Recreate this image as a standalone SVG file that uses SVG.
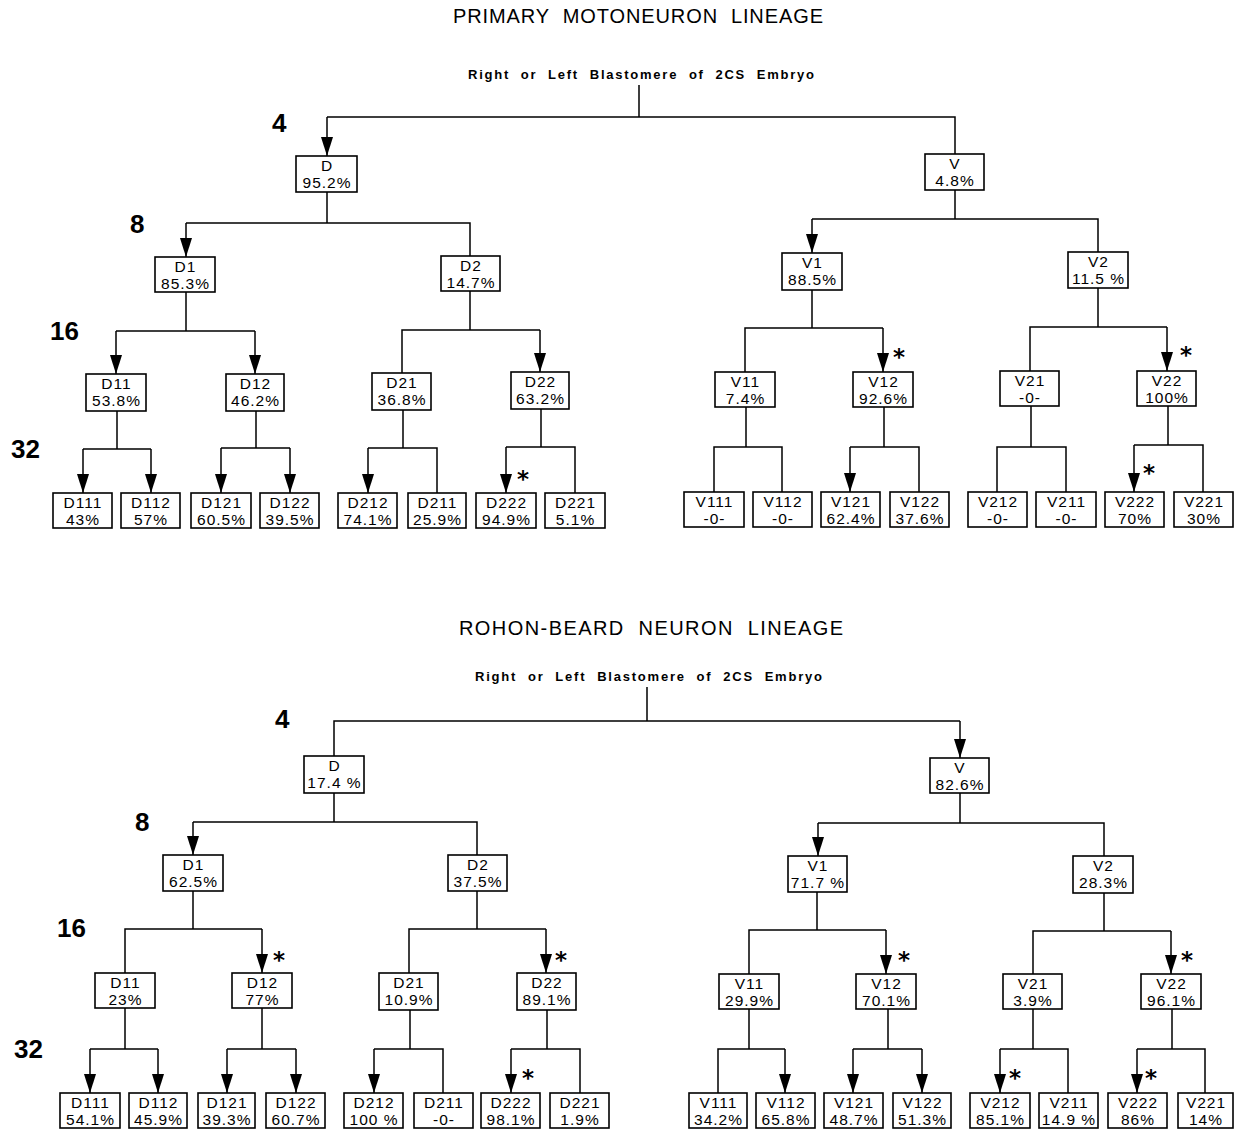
<svg xmlns="http://www.w3.org/2000/svg" width="1235" height="1132" viewBox="0 0 1235 1132">
<style>
  .bg{fill:#fff}
  .title{font-family:"Liberation Sans",Arial,sans-serif;font-size:20px;fill:#000;white-space:pre}
  .sub{font-family:"Liberation Sans",Arial,sans-serif;font-size:13px;font-weight:bold;fill:#000;white-space:pre}
  .lvl{font-family:"Liberation Sans",Arial,sans-serif;font-size:26px;font-weight:bold;fill:#000}
  .node rect{fill:#fff;stroke:#000;stroke-width:1.6}
  .node text{font-family:"Liberation Sans",Arial,sans-serif;font-size:15.5px;fill:#000;text-anchor:middle;letter-spacing:1px;white-space:pre}
  .ln{fill:none;stroke:#000;stroke-width:1.5}
  .arr{fill:none;stroke:#000;stroke-width:1.5;marker-end:url(#ah)}
  .ast{font-family:"DejaVu Sans",sans-serif;font-size:23px;font-weight:bold;fill:#000;text-anchor:middle}
</style>
<defs>
  <marker id="ah" markerUnits="userSpaceOnUse" markerWidth="19" markerHeight="12" viewBox="0 0 19 12" refX="19" refY="6" orient="auto">
    <path d="M0,0 L19,6 L0,12 z" fill="#000"/>
  </marker>
</defs>
<rect class="bg" x="0" y="0" width="1235" height="1132"/>

<!-- titles and level labels -->
<text class="title" x="453" y="23" textLength="370" lengthAdjust="spacing">PRIMARY  MOTONEURON  LINEAGE</text>
<text class="sub" x="468" y="79" textLength="346" lengthAdjust="spacing">Right  or  Left  Blastomere  of  2CS  Embryo</text>
<text class="lvl" x="272" y="132">4</text>
<text class="lvl" x="130" y="233">8</text>
<text class="lvl" x="50" y="340">16</text>
<text class="lvl" x="11" y="458">32</text>

<text class="title" x="459" y="635" textLength="384" lengthAdjust="spacing">ROHON-BEARD  NEURON  LINEAGE</text>
<text class="sub" x="475" y="681" textLength="347" lengthAdjust="spacing">Right  or  Left  Blastomere  of  2CS  Embryo</text>
<text class="lvl" x="275" y="728">4</text>
<text class="lvl" x="135" y="831">8</text>
<text class="lvl" x="57" y="937">16</text>
<text class="lvl" x="14" y="1058">32</text>

<g id="connectors">
  <g id="conn-motoneuron">
    <path class="ln" d="M639,85 V117 M327,117 H955 V154"/>
    <path class="arr" d="M327,117 V156"/>
    <path class="ln" d="M327,192 V223 M186,223 H470 V256"/>
    <path class="arr" d="M186,223 V257"/>
    <path class="ln" d="M955,190 V219 M812,219 H1098 V252"/>
    <path class="arr" d="M812,219 V253"/>
    <path class="ln" d="M186,292 V331 M116,331 H255"/>
    <path class="arr" d="M116,331 V374"/>
    <path class="arr" d="M255,331 V374"/>
    <path class="ln" d="M470,291 V330 M402,373 V330 H540"/>
    <path class="arr" d="M540,330 V372"/>
    <path class="ln" d="M812,290 V328 M745,372 V328 H883"/>
    <path class="arr" d="M883,328 V372"/>
    <path class="ln" d="M1098,288 V327 M1030,371 V327 H1167"/>
    <path class="arr" d="M1167,327 V371"/>
    <path class="ln" d="M117,411 V449 M83,449 H151"/>
    <path class="arr" d="M83,449 V493"/>
    <path class="arr" d="M151,449 V493"/>
    <path class="ln" d="M256,411 V448 M221,448 H290"/>
    <path class="arr" d="M221,448 V493"/>
    <path class="arr" d="M290,448 V493"/>
    <path class="ln" d="M403,410 V448 M368,448 H437 V493"/>
    <path class="arr" d="M368,448 V493"/>
    <path class="ln" d="M541,409 V447 M506,447 H575 V493"/>
    <path class="arr" d="M506,447 V493"/>
    <path class="ln" d="M746,407 V447 M714,492 V447 H782 V492"/>
    <path class="ln" d="M884,407 V447 M850,447 H919 V492"/>
    <path class="arr" d="M850,447 V492"/>
    <path class="ln" d="M1031,406 V447 M997,492 V447 H1066 V492"/>
    <path class="ln" d="M1168,406 V445 M1134,445 H1203 V492"/>
    <path class="arr" d="M1134,445 V492"/>
    <text class="ast" x="899" y="365">*</text>
    <text class="ast" x="1186" y="363">*</text>
    <text class="ast" x="523" y="487">*</text>
    <text class="ast" x="1149" y="481">*</text>
  </g>
  <g id="conn-rohon-beard">
    <path class="ln" d="M647,687 V721 M334,756 V721 H960"/>
    <path class="arr" d="M960,721 V758"/>
    <path class="ln" d="M334,793 V822 M193,822 H477 V855"/>
    <path class="arr" d="M193,822 V855"/>
    <path class="ln" d="M960,793 V823 M818,823 H1104 V856"/>
    <path class="arr" d="M818,823 V856"/>
    <path class="ln" d="M193,891 V929 M125,973 V929 H262"/>
    <path class="arr" d="M262,929 V973"/>
    <path class="ln" d="M477,891 V929 M409,973 V929 H546"/>
    <path class="arr" d="M546,929 V973"/>
    <path class="ln" d="M817,892 V930 M749,974 V930 H886"/>
    <path class="arr" d="M886,930 V974"/>
    <path class="ln" d="M1104,893 V931 M1033,974 V931 H1171"/>
    <path class="arr" d="M1171,931 V974"/>
    <path class="ln" d="M125,1008 V1049 M90,1049 H158"/>
    <path class="arr" d="M90,1049 V1093"/>
    <path class="arr" d="M158,1049 V1093"/>
    <path class="ln" d="M262,1008 V1049 M227,1049 H296"/>
    <path class="arr" d="M227,1049 V1093"/>
    <path class="arr" d="M296,1049 V1093"/>
    <path class="ln" d="M410,1010 V1049 M374,1049 H443 V1093"/>
    <path class="arr" d="M374,1049 V1093"/>
    <path class="ln" d="M547,1010 V1049 M511,1049 H580 V1093"/>
    <path class="arr" d="M511,1049 V1093"/>
    <path class="ln" d="M749,1009 V1049 M718,1093 V1049 H785"/>
    <path class="arr" d="M785,1049 V1093"/>
    <path class="ln" d="M888,1009 V1049 M853,1049 H922"/>
    <path class="arr" d="M853,1049 V1093"/>
    <path class="arr" d="M922,1049 V1093"/>
    <path class="ln" d="M1033,1009 V1049 M1000,1049 H1068 V1093"/>
    <path class="arr" d="M1000,1049 V1093"/>
    <path class="ln" d="M1172,1009 V1049 M1137,1049 H1205 V1093"/>
    <path class="arr" d="M1137,1049 V1093"/>
    <text class="ast" x="279" y="968">*</text>
    <text class="ast" x="561" y="968">*</text>
    <text class="ast" x="904" y="968">*</text>
    <text class="ast" x="1187" y="968">*</text>
    <text class="ast" x="528" y="1086">*</text>
    <text class="ast" x="1015" y="1086">*</text>
    <text class="ast" x="1151" y="1086">*</text>
  </g>
</g>

<g id="nodes-motoneuron">
  <g id="m-D" class="node"><rect x="296" y="156" width="61" height="36"/><text x="327" y="171">D</text><text x="327" y="188">95.2%</text></g>
  <g id="m-V" class="node"><rect x="925" y="154" width="59" height="36"/><text x="955" y="169">V</text><text x="955" y="186">4.8%</text></g>
  <g id="m-D1" class="node"><rect x="155" y="257" width="60" height="35"/><text x="185.5" y="272">D1</text><text x="185.5" y="289">85.3%</text></g>
  <g id="m-D2" class="node"><rect x="441" y="256" width="59" height="35"/><text x="471" y="271">D2</text><text x="471" y="288">14.7%</text></g>
  <g id="m-V1" class="node"><rect x="782" y="253" width="60" height="37"/><text x="812.5" y="268">V1</text><text x="812.5" y="285">88.5%</text></g>
  <g id="m-V2" class="node"><rect x="1068" y="252" width="60" height="36"/><text x="1098.5" y="267">V2</text><text x="1098.5" y="284">11.5 %</text></g>
  <g id="m-D11" class="node"><rect x="86" y="374" width="60" height="37"/><text x="116.5" y="389">D11</text><text x="116.5" y="406">53.8%</text></g>
  <g id="m-D12" class="node"><rect x="226" y="374" width="58" height="37"/><text x="255.5" y="389">D12</text><text x="255.5" y="406">46.2%</text></g>
  <g id="m-D21" class="node"><rect x="372" y="373" width="59" height="37"/><text x="402" y="388">D21</text><text x="402" y="405">36.8%</text></g>
  <g id="m-D22" class="node"><rect x="511" y="372" width="58" height="37"/><text x="540.5" y="387">D22</text><text x="540.5" y="404">63.2%</text></g>
  <g id="m-V11" class="node"><rect x="715" y="372" width="60" height="35"/><text x="745.5" y="387">V11</text><text x="745.5" y="404">7.4%</text></g>
  <g id="m-V12" class="node"><rect x="853" y="372" width="60" height="35"/><text x="883.5" y="387">V12</text><text x="883.5" y="404">92.6%</text></g>
  <g id="m-V21" class="node"><rect x="1000" y="371" width="59" height="35"/><text x="1030" y="386">V21</text><text x="1030" y="403">-0-</text></g>
  <g id="m-V22" class="node"><rect x="1137" y="371" width="59" height="35"/><text x="1167" y="386">V22</text><text x="1167" y="403">100%</text></g>
  <g id="m-D111" class="node"><rect x="53" y="493" width="59" height="35"/><text x="83" y="508">D111</text><text x="83" y="525">43%</text></g>
  <g id="m-D112" class="node"><rect x="121" y="493" width="59" height="35"/><text x="151" y="508">D112</text><text x="151" y="525">57%</text></g>
  <g id="m-D121" class="node"><rect x="191" y="493" width="60" height="35"/><text x="221.5" y="508">D121</text><text x="221.5" y="525">60.5%</text></g>
  <g id="m-D122" class="node"><rect x="260" y="493" width="59" height="35"/><text x="290" y="508">D122</text><text x="290" y="525">39.5%</text></g>
  <g id="m-D212" class="node"><rect x="338" y="493" width="59" height="35"/><text x="368" y="508">D212</text><text x="368" y="525">74.1%</text></g>
  <g id="m-D211" class="node"><rect x="408" y="493" width="58" height="35"/><text x="437.5" y="508">D211</text><text x="437.5" y="525">25.9%</text></g>
  <g id="m-D222" class="node"><rect x="476" y="493" width="60" height="35"/><text x="506.5" y="508">D222</text><text x="506.5" y="525">94.9%</text></g>
  <g id="m-D221" class="node"><rect x="545" y="493" width="60" height="35"/><text x="575.5" y="508">D221</text><text x="575.5" y="525">5.1%</text></g>
  <g id="m-V111" class="node"><rect x="684" y="492" width="60" height="35"/><text x="714.5" y="507">V111</text><text x="714.5" y="524">-0-</text></g>
  <g id="m-V112" class="node"><rect x="753" y="492" width="59" height="35"/><text x="783" y="507">V112</text><text x="783" y="524">-0-</text></g>
  <g id="m-V121" class="node"><rect x="821" y="492" width="59" height="35"/><text x="851" y="507">V121</text><text x="851" y="524">62.4%</text></g>
  <g id="m-V122" class="node"><rect x="890" y="492" width="59" height="35"/><text x="920" y="507">V122</text><text x="920" y="524">37.6%</text></g>
  <g id="m-V212" class="node"><rect x="968" y="492" width="59" height="35"/><text x="998" y="507">V212</text><text x="998" y="524">-0-</text></g>
  <g id="m-V211" class="node"><rect x="1036" y="492" width="60" height="35"/><text x="1066.5" y="507">V211</text><text x="1066.5" y="524">-0-</text></g>
  <g id="m-V222" class="node"><rect x="1105" y="492" width="59" height="35"/><text x="1135" y="507">V222</text><text x="1135" y="524">70%</text></g>
  <g id="m-V221" class="node"><rect x="1174" y="492" width="59" height="35"/><text x="1204" y="507">V221</text><text x="1204" y="524">30%</text></g>
</g>

<g id="nodes-rohon-beard">
  <g id="r-D" class="node"><rect x="304" y="756" width="60" height="37"/><text x="334.5" y="771">D</text><text x="334.5" y="788">17.4 %</text></g>
  <g id="r-V" class="node"><rect x="930" y="758" width="59" height="35"/><text x="960" y="773">V</text><text x="960" y="790">82.6%</text></g>
  <g id="r-D1" class="node"><rect x="163" y="855" width="60" height="36"/><text x="193.5" y="870">D1</text><text x="193.5" y="887">62.5%</text></g>
  <g id="r-D2" class="node"><rect x="448" y="855" width="59" height="36"/><text x="478" y="870">D2</text><text x="478" y="887">37.5%</text></g>
  <g id="r-V1" class="node"><rect x="788" y="856" width="59" height="36"/><text x="818" y="871">V1</text><text x="818" y="888">71.7 %</text></g>
  <g id="r-V2" class="node"><rect x="1073" y="856" width="60" height="37"/><text x="1103.5" y="871">V2</text><text x="1103.5" y="888">28.3%</text></g>
  <g id="r-D11" class="node"><rect x="95" y="973" width="60" height="35"/><text x="125.5" y="988">D11</text><text x="125.5" y="1005">23%</text></g>
  <g id="r-D12" class="node"><rect x="232" y="973" width="60" height="35"/><text x="262.5" y="988">D12</text><text x="262.5" y="1005">77%</text></g>
  <g id="r-D21" class="node"><rect x="379" y="973" width="59" height="37"/><text x="409" y="988">D21</text><text x="409" y="1005">10.9%</text></g>
  <g id="r-D22" class="node"><rect x="517" y="973" width="59" height="37"/><text x="547" y="988">D22</text><text x="547" y="1005">89.1%</text></g>
  <g id="r-V11" class="node"><rect x="719" y="974" width="60" height="35"/><text x="749.5" y="989">V11</text><text x="749.5" y="1006">29.9%</text></g>
  <g id="r-V12" class="node"><rect x="856" y="974" width="60" height="35"/><text x="886.5" y="989">V12</text><text x="886.5" y="1006">70.1%</text></g>
  <g id="r-V21" class="node"><rect x="1003" y="974" width="59" height="35"/><text x="1033" y="989">V21</text><text x="1033" y="1006">3.9%</text></g>
  <g id="r-V22" class="node"><rect x="1141" y="974" width="60" height="35"/><text x="1171.5" y="989">V22</text><text x="1171.5" y="1006">96.1%</text></g>
  <g id="r-D111" class="node"><rect x="60" y="1093" width="60" height="35"/><text x="90.5" y="1108">D111</text><text x="90.5" y="1125">54.1%</text></g>
  <g id="r-D112" class="node"><rect x="129" y="1093" width="58" height="35"/><text x="158.5" y="1108">D112</text><text x="158.5" y="1125">45.9%</text></g>
  <g id="r-D121" class="node"><rect x="198" y="1093" width="57" height="35"/><text x="227" y="1108">D121</text><text x="227" y="1125">39.3%</text></g>
  <g id="r-D122" class="node"><rect x="266" y="1093" width="59" height="35"/><text x="296" y="1108">D122</text><text x="296" y="1125">60.7%</text></g>
  <g id="r-D212" class="node"><rect x="344" y="1093" width="59" height="35"/><text x="374" y="1108">D212</text><text x="374" y="1125">100 %</text></g>
  <g id="r-D211" class="node"><rect x="414" y="1093" width="59" height="35"/><text x="444" y="1108">D211</text><text x="444" y="1125">-0-</text></g>
  <g id="r-D222" class="node"><rect x="481" y="1093" width="59" height="35"/><text x="511" y="1108">D222</text><text x="511" y="1125">98.1%</text></g>
  <g id="r-D221" class="node"><rect x="550" y="1093" width="59" height="35"/><text x="580" y="1108">D221</text><text x="580" y="1125">1.9%</text></g>
  <g id="r-V111" class="node"><rect x="689" y="1093" width="58" height="35"/><text x="718.5" y="1108">V111</text><text x="718.5" y="1125">34.2%</text></g>
  <g id="r-V112" class="node"><rect x="756" y="1093" width="59" height="35"/><text x="786" y="1108">V112</text><text x="786" y="1125">65.8%</text></g>
  <g id="r-V121" class="node"><rect x="824" y="1093" width="59" height="35"/><text x="854" y="1108">V121</text><text x="854" y="1125">48.7%</text></g>
  <g id="r-V122" class="node"><rect x="893" y="1093" width="58" height="35"/><text x="922.5" y="1108">V122</text><text x="922.5" y="1125">51.3%</text></g>
  <g id="r-V212" class="node"><rect x="970" y="1093" width="60" height="35"/><text x="1000.5" y="1108">V212</text><text x="1000.5" y="1125">85.1%</text></g>
  <g id="r-V211" class="node"><rect x="1039" y="1093" width="59" height="35"/><text x="1069" y="1108">V211</text><text x="1069" y="1125">14.9 %</text></g>
  <g id="r-V222" class="node"><rect x="1108" y="1093" width="59" height="35"/><text x="1138" y="1108">V222</text><text x="1138" y="1125">86%</text></g>
  <g id="r-V221" class="node"><rect x="1178" y="1093" width="55" height="35"/><text x="1206" y="1108">V221</text><text x="1206" y="1125">14%</text></g>
</g>
</svg>
